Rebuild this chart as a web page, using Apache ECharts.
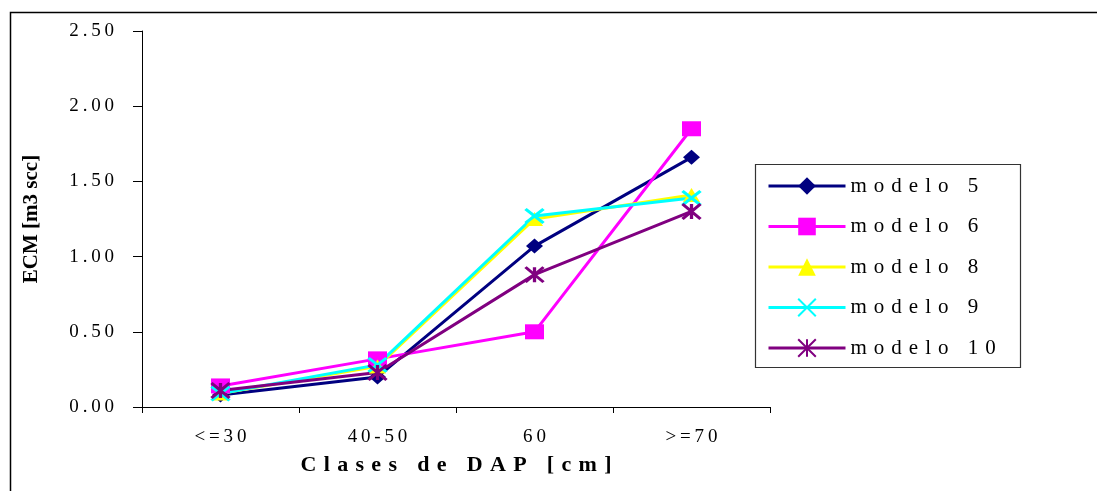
<!DOCTYPE html>
<html>
<head>
<meta charset="utf-8">
<script src="https://cdn.jsdelivr.net/npm/echarts@6/dist/echarts.min.js"></script>
<style>
  html, body { margin: 0; padding: 0; background: #fff; }
  #chart { width: 1097px; height: 491px; }
</style>
</head>
<body>
<div id="chart"></div>
<script>
// DAP diameter classes
const categories = ['<=30', '40-50', '60', '>=70'];

// ECM [m3 scc] per model and class
const modelo5  = [0.08, 0.20, 1.07, 1.66];
const modelo6  = [0.14, 0.32, 0.50, 1.85];
const modelo8  = [0.09, 0.27, 1.25, 1.41];
const modelo9  = [0.09, 0.28, 1.27, 1.39];
const modelo10 = [0.11, 0.23, 0.88, 1.30];

const seriesNames = ['modelo 5', 'modelo 6', 'modelo 8', 'modelo 9', 'modelo 10'];
const yAxisName = 'ECM [m3 scc]';
const xAxisName = 'Clases de DAP [cm]';

const FONT = '"Liberation Serif", "Times New Roman", serif';
const GAP = '\u2004';

// spread characters apart; word gaps get a wider space
function spaced(str, sep) {
  return str.split(' ').map(w => w.split('').join(sep)).join(sep + ' ' + sep);
}

const X_MARK = 'path://M0,0L10,10M10,0L0,10';
const STAR_MARK = 'path://M0,0L10,10M10,0L0,10M5,0L5,10';

function lineSeries(name, data, color, symbol, size, stroked) {
  return {
    name: name,
    type: 'line',
    data: data,
    symbol: symbol,
    symbolSize: size,
    lineStyle: { color: color, width: 3 },
    itemStyle: stroked
      ? { color: color, borderColor: color, borderWidth: 3 }
      : { color: color, borderWidth: 0 },
    emphasis: { disabled: true },
    animation: false,
    z: 3
  };
}

const chart = echarts.init(document.getElementById('chart'));
chart.setOption({
  backgroundColor: '#fff',
  animation: false,
  grid: { left: 142, right: 327, top: 31, bottom: 84 },
  xAxis: {
    type: 'category',
    data: categories,
    boundaryGap: true,
    axisLine: { lineStyle: { color: '#000', width: 1 } },
    axisTick: { show: true, length: 6, lineStyle: { color: '#000' } },
    axisLabel: {
      margin: 21,
      fontFamily: FONT, fontSize: 19, color: '#000',
      formatter: v => spaced(v, '\u2009')
    },
    name: spaced(xAxisName, GAP),
    nameLocation: 'middle',
    nameGap: 47,
    nameTextStyle: { fontFamily: FONT, fontSize: 22, fontWeight: 'bold', color: '#000' }
  },
  yAxis: {
    type: 'value',
    min: 0, max: 2.5, interval: 0.5,
    axisLine: { show: true, lineStyle: { color: '#000', width: 1 } },
    axisTick: { show: true, length: 9, lineStyle: { color: '#000' } },
    splitLine: { show: false },
    axisLabel: {
      margin: 28,
      fontFamily: FONT, fontSize: 19, color: '#000',
      formatter: v => spaced(v.toFixed(2), '\u2009')
    },
    name: yAxisName,
    nameLocation: 'middle',
    nameRotate: 90,
    nameGap: 100,
    nameTextStyle: { fontFamily: FONT, fontSize: 21, fontWeight: 'bold', color: '#000' }
  },
  legend: {
    orient: 'vertical',
    left: 767,
    top: 175,
    padding: 0,
    itemGap: 18.5,
    itemWidth: 77,
    itemHeight: 22,
    itemTextGap: 8,
    selectedMode: false,
    data: seriesNames,
    lineStyle: { width: 3 },
    formatter: name => spaced(name, GAP),
    textStyle: { fontFamily: FONT, fontSize: 21, lineHeight: 22, color: '#000' }
  },
  graphic: [
    {
      type: 'rect', silent: true, z: -1,
      shape: { x: 10.5, y: 12.5, width: 1100, height: 500 },
      style: { fill: 'none', stroke: '#000', lineWidth: 1.5 }
    },
    {
      type: 'rect', silent: true, z: -1,
      shape: { x: 755.5, y: 164.5, width: 265, height: 203 },
      style: { fill: '#fff', stroke: '#333', lineWidth: 1.2 }
    }
  ],
  series: [
    lineSeries(seriesNames[0], modelo5,  '#000080', 'diamond',  [17, 15], false),
    lineSeries(seriesNames[1], modelo6,  '#FF00FF', 'rect',     [19, 15], false),
    lineSeries(seriesNames[2], modelo8,  '#FFFF00', 'triangle', [17, 14], false),
    lineSeries(seriesNames[3], modelo9,  '#00FFFF', X_MARK,     [18, 14], true),
    lineSeries(seriesNames[4], modelo10, '#800080', STAR_MARK,  [18, 15], true)
  ]
});
</script>
</body>
</html>
